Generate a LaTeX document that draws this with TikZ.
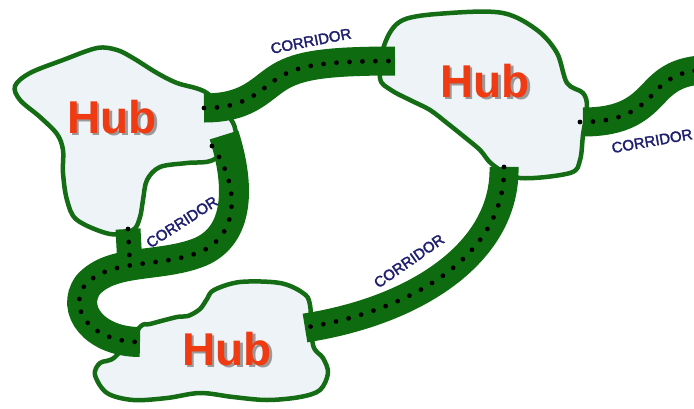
\documentclass[tikz,border=0pt]{standalone}
\usepackage{fontspec}
\setmainfont{Liberation Sans}
\newfontfamily\corrfont[FakeBold=2]{Liberation Sans}
\definecolor{hubfill}{HTML}{EEF3F7}
\definecolor{hubline}{HTML}{146C14}
\definecolor{corr}{HTML}{0F6B0F}
\definecolor{hubred}{HTML}{F03A12}
\definecolor{navy}{HTML}{1E1E6E}
% hub title with a soft grey drop shadow behind it
\newcommand{\shadowtitle}[1]{%
  \rlap{\kern2.5pt\raisebox{-2.5pt}{\textcolor{black!40}{#1}}}\textcolor{hubred}{#1}}
\tikzset{
  hubshape/.style={fill=hubfill, draw=hubline, line width=4.5pt, line join=round},
  band/.style={draw=corr, line width=29pt},
  dotline/.style={draw=black, line width=4.8pt, line cap=round, dash pattern=on 0pt off 13pt},
  hublabel/.style={font=\fontsize{46}{46}\selectfont\bfseries, inner sep=0pt},
  corrlabel/.style={font=\corrfont\fontsize{15}{15}\selectfont, text=navy, inner sep=0pt}
}
\begin{document}
\begin{tikzpicture}[x=1pt, y=-1pt]
\useasboundingbox (0,0) rectangle (694,408);
\clip (0,0) rectangle (694,408);
\fill[white] (0,0) rectangle (694,408);

% hub outlines
\draw[hubshape] plot[smooth cycle, tension=0.55] coordinates {
  (15,86) (30,73) (63,60) (97,48) (117,50) (133,58) (157,73) (177,83) (207,93)
  (232,121) (234,140) (213,160) (187,163) (160,167) (147,180) (143,200) (140,217)
  (133,230) (110,234) (77,220) (67,200) (63,173) (63,150) (57,134) (40,117) (20,100)};
\draw[hubshape] plot[smooth cycle, tension=0.55] coordinates {
  (385,43) (403,20) (450,13) (503,13) (537,30) (557,53) (567,83) (583,93) (587,107)
  (583,135) (580,160) (570,173) (520,178) (493,165) (480,150) (462,135) (447,123)
  (430,110) (410,100) (391,90) (380,78)};
\draw[hubshape] plot[smooth cycle, tension=0.55] coordinates {
  (140,327) (150,324) (177,317) (188,316) (200,309) (207,299) (214,290) (240,282)
  (280,283) (303,293) (310,305) (313,345) (323,358) (328,373) (320,390) (300,397)
  (267,400) (233,397) (200,393) (167,398) (133,400) (107,393) (95,375) (100,363)
  (115,357)};

% corridor end points
\coordinate (a1) at (204,108);
\coordinate (a2) at (395,61);
\coordinate (b1) at (583,122);
\coordinate (b2) at (700,70);
\coordinate (c1) at (504,167);
\coordinate (c2) at (305,328);
\coordinate (d1) at (224,135);
\coordinate (d2) at (140,342);
\coordinate (e1) at (128,229);
\coordinate (e2) at (130,266);

% corridor bands
\draw[band] (a1) .. controls (245,108) and (258,92) .. (275,80)
                 .. controls (295,66) and (320,61) .. (a2);
\draw[band] (b1) .. controls (625,122) and (640,108) .. (655,92)
                 .. controls (668,78) and (680,72) .. (b2);
\draw[band] (c1) .. controls (506,250) and (420,310) .. (c2);
\draw[band, line width=30pt] (d1) .. controls (240,185) and (240,235) .. (200,252)
                 .. controls (160,268) and (112,258) .. (88,285)
                 .. controls (70,310) and (95,342) .. (d2);
\draw[band, line width=25pt] (e1) -- (e2);

% dotted centre lines
\draw[dotline] (a1) .. controls (245,108) and (258,92) .. (275,80)
                    .. controls (295,66) and (320,61) .. (a2);
\draw[dotline] (580,122) .. controls (625,122) and (640,108) .. (655,92)
                    .. controls (668,78) and (680,72) .. (b2);
\draw[dotline] (c1) .. controls (506,250) and (420,310) .. (302,328);
\draw[dotline] (212,146) .. controls (240,185) and (240,235) .. (200,252)
                    .. controls (160,268) and (110,258) .. (85,285)
                    .. controls (67,310) and (92,342) .. (d2);
\draw[dotline] (e1) -- (e2);

% hub titles
\node[hublabel] (hubA) at (112,118) {\shadowtitle{Hub}};
\node[hublabel] (hubB) at (485,82) {\shadowtitle{Hub}};
\node[hublabel] (hubC) at (227,350) {\shadowtitle{Hub}};

% corridor labels
\node[corrlabel, rotate=11] (labA) at (311,41) {CORRIDOR};
\node[corrlabel, rotate=10] (labB) at (652,141) {CORRIDOR};
\node[corrlabel, rotate=35] (labC) at (409,261) {CORRIDOR};
\node[corrlabel, rotate=33] (labD) at (182,222) {CORRIDOR};
\end{tikzpicture}
\end{document}
